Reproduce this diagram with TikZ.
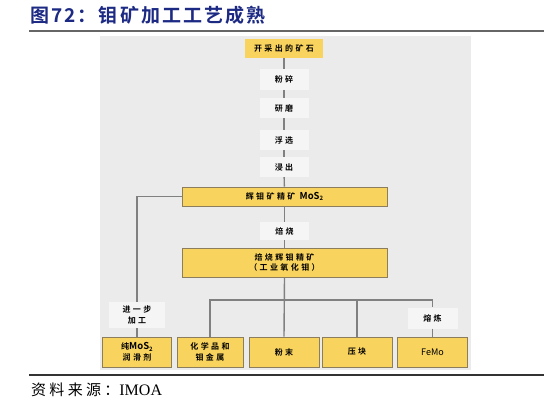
\documentclass[tikz,border=0pt]{standalone}
\usepackage{fontspec}
\newfontfamily\cjk{Noto Sans CJK SC}[BoldFont=Noto Sans CJK SC Bold]
\newfontfamily\cjkbox{Noto Sans CJK SC}[BoldFont=Noto Sans CJK SC Bold, LetterSpace=30]
\newfontfamily\cjktitle{Noto Sans CJK SC}[BoldFont=Noto Sans CJK SC Bold, LetterSpace=11]
\newfontfamily\cjksrc{Noto Sans CJK SC}[LetterSpace=22]
\newfontfamily\serifl{Liberation Serif}
\definecolor{panelc}{HTML}{EBEBEB}
\definecolor{yel}{HTML}{F8D35E}
\definecolor{yelb}{HTML}{8C7E5C}
\definecolor{labc}{HTML}{F5F5F5}
\definecolor{linec}{HTML}{808080}
\definecolor{navy}{HTML}{1C2A84}
\newcommand{\sub}[1]{\raisebox{-0.35ex}{\fontsize{6}{6}\selectfont #1}}
\newcommand{\lat}[1]{{\cjk\bfseries\fontsize{9.5}{10}\selectfont #1}}
\tikzset{
  ybox/.style={fill=yel, draw=yelb, line width=0.9pt, inner sep=1pt, align=center,
    font=\cjkbox\bfseries\fontsize{8}{10.5}\selectfont},
  topbox/.style={fill=yel, draw=none, inner sep=1pt, align=center,
    font=\cjkbox\bfseries\fontsize{8}{10.5}\selectfont},
  lab/.style={fill=labc, draw=none, inner sep=1pt, align=center,
    font=\cjkbox\bfseries\fontsize{8}{10.5}\selectfont},
  conn/.style={draw=linec, line width=1.4pt}
}
\begin{document}
\begin{tikzpicture}[x=1pt,y=-1pt]
\useasboundingbox (0,0) rectangle (546,405);
\fill[panelc] (100,36) rectangle (471,370);
\draw[line width=2pt, color=black!60] (29,31) -- (544,31);
\draw[line width=2pt, color=black!80] (29,375) -- (544,375);

\node[anchor=west, text=navy, font=\cjktitle\bfseries\fontsize{19}{21}\selectfont, inner sep=0pt] (title) at (30,15) {图72：钼矿加工工艺成熟};
\node[anchor=west, font=\cjksrc\fontsize{15}{17}\selectfont, inner sep=0pt] (src) at (31,390) {资料来源：{\serifl\fontsize{16}{17}\selectfont IMOA}};

\node[topbox, minimum width=78pt, minimum height=19pt] (top) at (284,48.5) {开采出的矿石};
\node[lab, minimum width=49pt, minimum height=21pt] (s1) at (284,79.5) {粉碎};
\node[lab, minimum width=49pt, minimum height=20pt] (s2) at (284,108) {研磨};
\node[lab, minimum width=49pt, minimum height=20pt] (s3) at (284,140) {浮选};
\node[lab, minimum width=49pt, minimum height=20pt] (s4) at (284,167) {浸出};
\node[ybox, minimum width=205pt, minimum height=19pt] (mos) at (284.5,196.5) {辉钼矿精矿\ \lat{MoS\sub{2}}};
\node[lab, minimum width=49pt, minimum height=18pt] (roast) at (284.5,231) {焙烧};
\node[ybox, minimum width=205pt, minimum height=29pt] (calc) at (284.5,262.5) {焙烧辉钼精矿\\（工业氧化钼）};
\node[lab, minimum width=56pt, minimum height=26pt] (further) at (137,315) {进一步\\加工};
\node[lab, minimum width=50pt, minimum height=21pt] (smelt) at (432.5,318) {熔炼};
\node[ybox, minimum width=69pt, minimum height=30pt] (b1) at (137,352) {纯\lat{MoS\sub{2}}\\润滑剂};
\node[ybox, minimum width=66pt, minimum height=30pt] (b2) at (210,352) {化学品和\\钼金属};
\node[ybox, minimum width=70pt, minimum height=30pt] (b3) at (284,352) {粉末};
\node[ybox, minimum width=70pt, minimum height=30pt] (b4) at (357,352) {压块};
\node[ybox, minimum width=70pt, minimum height=30pt, font=\cjk\fontsize{9}{10}\selectfont] (b5) at (432.5,352) {FeMo};

\coordinate (hl) at (210,300);
\coordinate (hr) at (432.5,300);

\draw[conn] (top) -- (s1);
\draw[conn] (s1) -- (s2);
\draw[conn] (s2) -- (s3);
\draw[conn] (s3) -- (s4);
\draw[conn] (s4) -- (mos);
\draw[conn] (mos) -- (roast);
\draw[conn] (roast) -- (calc);
\draw[conn] (mos.west) -| (further.north);
\draw[conn] (further) -- (b1);
\draw[conn] (calc.south) -- (b3.north);
\draw[conn] (b2.north) -- (hl) -- (hr) -- (smelt.north);
\draw[conn] (b4.north) -- (b4.north |- hl);
\draw[conn] (smelt) -- (b5);
\end{tikzpicture}
\end{document}
